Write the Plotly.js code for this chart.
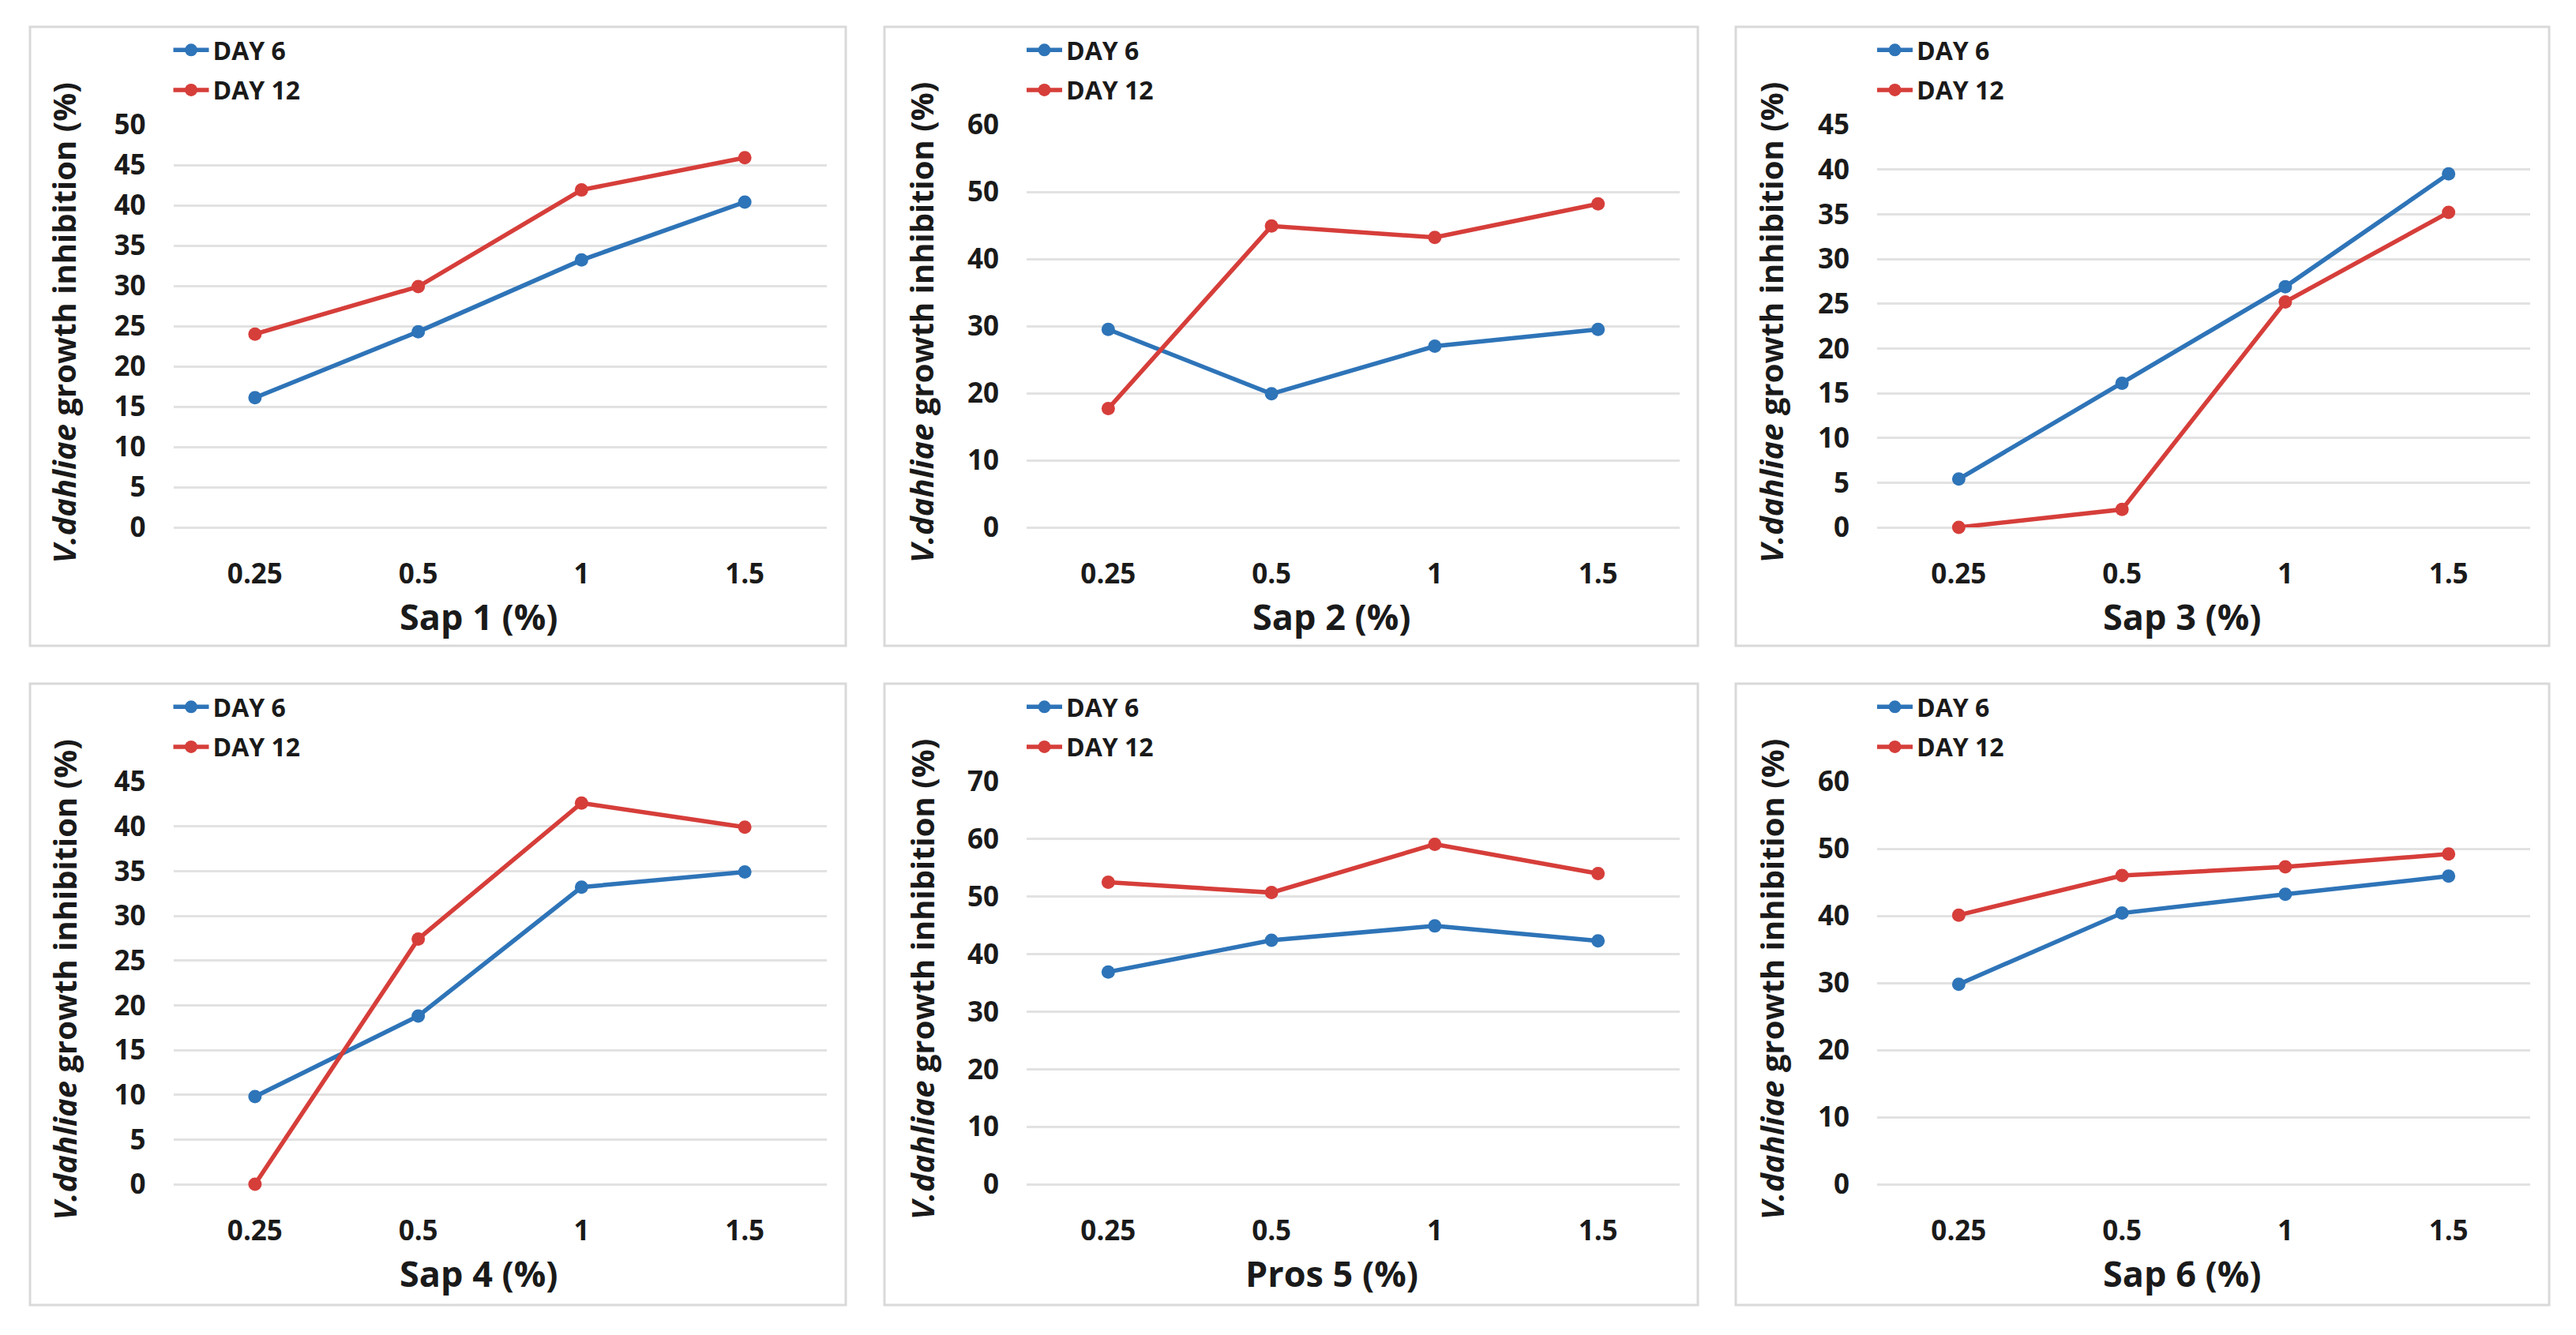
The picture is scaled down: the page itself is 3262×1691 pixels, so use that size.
<!DOCTYPE html>
<html>
<head>
<meta charset="utf-8">
<script src="https://cdn.plot.ly/plotly-3.0.1.min.js"></script>
<style>html,body{margin:0;padding:0;background:#fff;}#chart{width:3262px;height:1691px;}</style>
</head>
<body>
<div id="chart"></div>
<script>
// ---- data ----
const categories = ['0.25', '0.5', '1', '1.5'];
const xTitles = ['Sap 1 (%)', 'Sap 2 (%)', 'Sap 3 (%)', 'Sap 4 (%)', 'Pros 5 (%)', 'Sap 6 (%)'];
const seriesNames = ['DAY 6', 'DAY 12'];
const day6Sap1 = [16.1, 24.3, 33.2, 40.4];
const day12Sap1 = [24.0, 29.9, 41.9, 45.9];
const day6Sap2 = [29.5, 19.9, 27.0, 29.5];
const day12Sap2 = [17.7, 44.9, 43.2, 48.2];
const day6Sap3 = [5.4, 16.1, 26.9, 39.5];
const day12Sap3 = [0, 2.0, 25.2, 35.2];
const day6Sap4 = [9.8, 18.8, 33.2, 34.9];
const day12Sap4 = [0, 27.4, 42.6, 39.9];
const day6Pros5 = [36.9, 42.4, 44.9, 42.3];
const day12Pros5 = [52.5, 50.7, 59.1, 54.0];
const day6Sap6 = [29.8, 40.4, 43.2, 45.9];
const day12Sap6 = [40.1, 46.0, 47.3, 49.2];
const yMax = [50, 60, 45, 45, 70, 60];
const yStep = [5, 10, 5, 5, 10, 10];
const yTitle = '<i>V.dahliae</i> growth inhibition (%)';

const day6All = [day6Sap1, day6Sap2, day6Sap3, day6Sap4, day6Pros5, day6Sap6];
const day12All = [day12Sap1, day12Sap2, day12Sap3, day12Sap4, day12Pros5, day12Sap6];

// ---- layout geometry (pixels) ----
const W = 3262, H = 1691;
const plotLeft = [219.5, 1300, 2377];
const plotWidth = 827;
const plotTop = [158, 990];
const plotHeight = 510;
const boxX = [[38, 1071], [1120, 2150], [2198, 3228]];
const boxY = [[34, 818], [866, 1653]];
const yTitleOff = [-139, -133, -134];

const FONT = "'Open Sans', 'Noto Sans', sans-serif";
const TXT = '#1a1a1a';
const BLUE = '#2E74B8';
const RED = '#D63E3A';
const GRID = '#E2E2E2';

const traces = [];
const layout = {
  width: W, height: H,
  margin: {l: 0, r: 0, t: 0, b: 0},
  paper_bgcolor: '#ffffff', plot_bgcolor: '#ffffff',
  showlegend: true,
  font: {family: FONT, color: TXT},
  shapes: [], annotations: []
};

for (let p = 0; p < 6; p++) {
  const col = p % 3, row = Math.floor(p / 3);
  const n = p + 1;
  const xa = n === 1 ? 'x' : 'x' + n;
  const ya = n === 1 ? 'y' : 'y' + n;
  const lg = n === 1 ? 'legend' : 'legend' + n;
  const xKey = n === 1 ? 'xaxis' : 'xaxis' + n;
  const yKey = n === 1 ? 'yaxis' : 'yaxis' + n;

  [day6All[p], day12All[p]].forEach((vals, s) => {
    traces.push({
      type: 'scatter', mode: 'lines+markers',
      x: categories, y: vals, name: seriesNames[s],
      xaxis: xa, yaxis: ya, legend: lg, legendgroup: 'g' + n + '_' + s,
      line: {color: s === 0 ? BLUE : RED, width: 5.5},
      marker: {color: s === 0 ? BLUE : RED, size: 17, symbol: 'circle'},
      cliponaxis: false
    });
  });

  const x0 = plotLeft[col] / W, x1 = (plotLeft[col] + plotWidth) / W;
  const y1 = 1 - plotTop[row] / H, y0 = 1 - (plotTop[row] + plotHeight) / H;

  layout[xKey] = {
    type: 'category', domain: [x0, x1], anchor: ya,
    range: [-0.5, 3.5], showgrid: false, showline: false, zeroline: false,
    ticks: '', ticklabelstandoff: 35,
    tickfont: {family: FONT, size: 35, color: TXT, weight: 'bold'},
    fixedrange: true
  };
  layout[yKey] = {
    domain: [y0, y1], anchor: xa,
    range: [0, yMax[p]], tickmode: 'linear', tick0: 0, dtick: yStep[p],
    showgrid: true, gridcolor: GRID, gridwidth: 3,
    zeroline: true, zerolinecolor: GRID, zerolinewidth: 3,
    showline: false, ticks: '', ticklabelstandoff: 34,
    tickfont: {family: FONT, size: 35, color: TXT, weight: 'bold'},
    fixedrange: true
  };

  layout[lg] = {
    x: (plotLeft[col] - 5) / W, xanchor: 'left',
    y: 1 - (boxY[row][0] + 2) / H, yanchor: 'top',
    bgcolor: 'rgba(0,0,0,0)', borderwidth: 0,
    font: {family: FONT, size: 32, color: TXT, weight: 'bold'},
    traceorder: 'grouped', tracegroupgap: 6, itemwidth: 45
  };

  layout.shapes.push({
    type: 'rect', xref: 'paper', yref: 'paper', layer: 'below',
    x0: boxX[col][0] / W, x1: boxX[col][1] / W,
    y0: 1 - boxY[row][1] / H, y1: 1 - boxY[row][0] / H,
    line: {color: '#D9D9D9', width: 3}, fillcolor: 'rgba(0,0,0,0)'
  });

  layout.annotations.push({
    xref: xa + ' domain', yref: ya + ' domain',
    x: 0.5 - 27 / plotWidth, y: -(780 - 668) / plotHeight,
    xanchor: 'center', yanchor: 'middle', showarrow: false,
    text: xTitles[p],
    font: {family: FONT, size: 45, color: TXT, weight: 'bold'}
  });
  layout.annotations.push({
    xref: xa + ' domain', yref: ya + ' domain',
    x: yTitleOff[col] / plotWidth, y: 0.5 + 4 / plotHeight,
    xanchor: 'center', yanchor: 'middle', showarrow: false, textangle: -90,
    text: yTitle,
    font: {family: FONT, size: 40, color: TXT, weight: 'bold'}
  });
}

Plotly.newPlot('chart', traces, layout, {displayModeBar: false, staticPlot: true});
</script>
</body>
</html>
